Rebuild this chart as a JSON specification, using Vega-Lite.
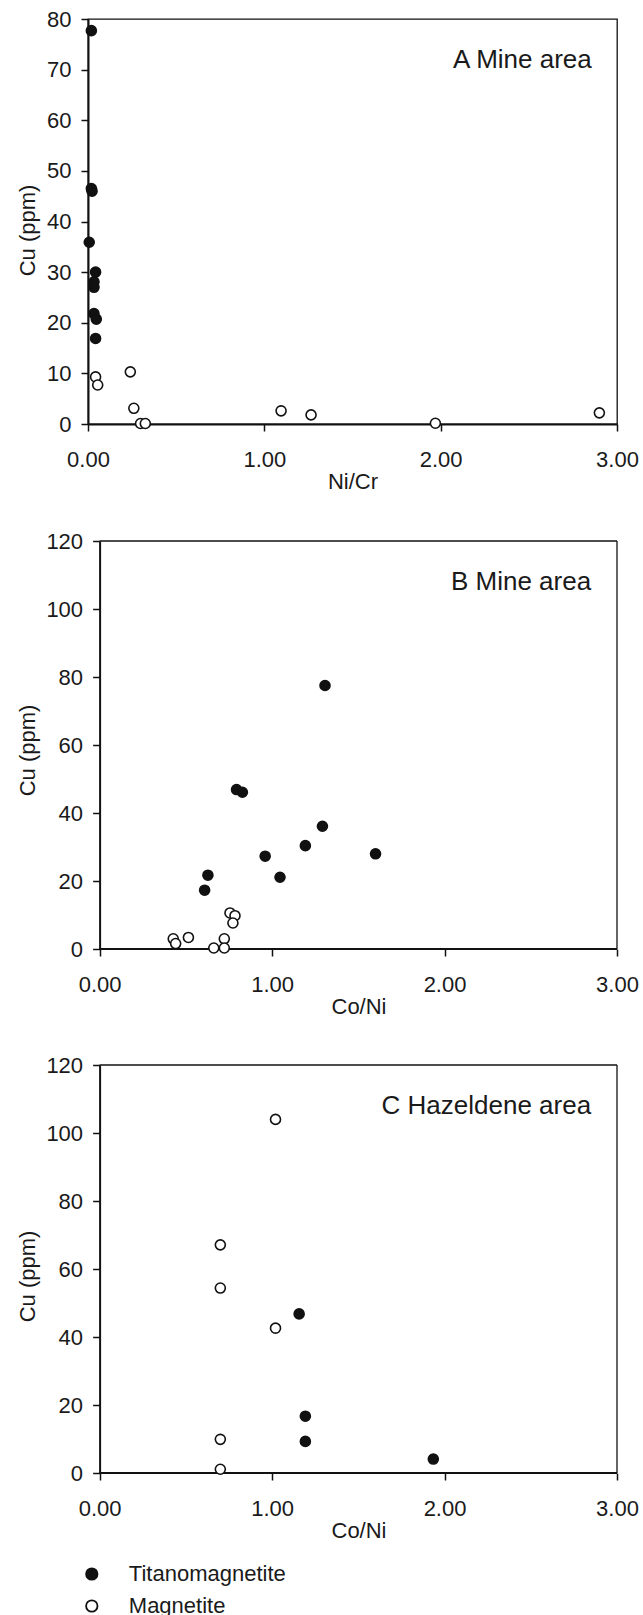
{
  "$schema": "https://vega.github.io/schema/vega-lite/v6.json",
  "background": "white",
  "padding": {"left": 15, "top": 7, "right": 2, "bottom": 0},
  "config": {
    "font": "Liberation Sans",
    "view": {"stroke": "#111", "strokeWidth": 1.3},
    "axis": {"grid": false, "domainColor": "#111", "domainWidth": 2, "tickColor": "#111", "tickWidth": 1.5, "tickSize": 7, "labelFontSize": 22, "labelColor": "#1a1a1a", "labelFont": "Liberation Sans", "titleFont": "Liberation Sans", "titleFontSize": 22, "titleFontWeight": "normal", "titleColor": "#1a1a1a", "labelFlush": false, "labelOverlap": false},
    "text": {"font": "Liberation Sans", "fontWeight": "normal"}
  },
  "datasets": {
    "A": [
      {"ratio": 0.019, "cu": 77.7, "type": "Titanomagnetite"},
      {"ratio": 0.019, "cu": 46.5, "type": "Titanomagnetite"},
      {"ratio": 0.023, "cu": 46.0, "type": "Titanomagnetite"},
      {"ratio": 0.007, "cu": 35.9, "type": "Titanomagnetite"},
      {"ratio": 0.043, "cu": 30.0, "type": "Titanomagnetite"},
      {"ratio": 0.034, "cu": 28.1, "type": "Titanomagnetite"},
      {"ratio": 0.034, "cu": 27.0, "type": "Titanomagnetite"},
      {"ratio": 0.034, "cu": 21.8, "type": "Titanomagnetite"},
      {"ratio": 0.047, "cu": 20.7, "type": "Titanomagnetite"},
      {"ratio": 0.043, "cu": 16.9, "type": "Titanomagnetite"},
      {"ratio": 0.043, "cu": 9.3, "type": "Magnetite"},
      {"ratio": 0.055, "cu": 7.7, "type": "Magnetite"},
      {"ratio": 0.24, "cu": 10.3, "type": "Magnetite"},
      {"ratio": 0.26, "cu": 3.1, "type": "Magnetite"},
      {"ratio": 0.298, "cu": 0.1, "type": "Magnetite"},
      {"ratio": 0.325, "cu": 0.1, "type": "Magnetite"},
      {"ratio": 1.095, "cu": 2.6, "type": "Magnetite"},
      {"ratio": 1.265, "cu": 1.8, "type": "Magnetite"},
      {"ratio": 1.97, "cu": 0.15, "type": "Magnetite"},
      {"ratio": 2.9, "cu": 2.2, "type": "Magnetite"}
    ],
    "B": [
      {"ratio": 1.307, "cu": 77.5, "type": "Titanomagnetite"},
      {"ratio": 0.794, "cu": 46.9, "type": "Titanomagnetite"},
      {"ratio": 0.828, "cu": 46.1, "type": "Titanomagnetite"},
      {"ratio": 1.292, "cu": 36.1, "type": "Titanomagnetite"},
      {"ratio": 1.193, "cu": 30.4, "type": "Titanomagnetite"},
      {"ratio": 0.96, "cu": 27.3, "type": "Titanomagnetite"},
      {"ratio": 1.6, "cu": 28.0, "type": "Titanomagnetite"},
      {"ratio": 0.628, "cu": 21.7, "type": "Titanomagnetite"},
      {"ratio": 1.046, "cu": 21.1, "type": "Titanomagnetite"},
      {"ratio": 0.609, "cu": 17.3, "type": "Titanomagnetite"},
      {"ratio": 0.756, "cu": 10.6, "type": "Magnetite"},
      {"ratio": 0.785, "cu": 9.8, "type": "Magnetite"},
      {"ratio": 0.773, "cu": 7.65, "type": "Magnetite"},
      {"ratio": 0.427, "cu": 3.0, "type": "Magnetite"},
      {"ratio": 0.441, "cu": 1.6, "type": "Magnetite"},
      {"ratio": 0.515, "cu": 3.4, "type": "Magnetite"},
      {"ratio": 0.723, "cu": 3.0, "type": "Magnetite"},
      {"ratio": 0.662, "cu": 0.3, "type": "Magnetite"},
      {"ratio": 0.723, "cu": 0.3, "type": "Magnetite"}
    ],
    "C": [
      {"ratio": 1.02, "cu": 104.0, "type": "Magnetite"},
      {"ratio": 0.7, "cu": 67.1, "type": "Magnetite"},
      {"ratio": 0.7, "cu": 54.4, "type": "Magnetite"},
      {"ratio": 1.02, "cu": 42.6, "type": "Magnetite"},
      {"ratio": 0.7, "cu": 9.9, "type": "Magnetite"},
      {"ratio": 0.7, "cu": 1.1, "type": "Magnetite"},
      {"ratio": 1.157, "cu": 46.8, "type": "Titanomagnetite"},
      {"ratio": 1.193, "cu": 16.7, "type": "Titanomagnetite"},
      {"ratio": 1.193, "cu": 9.3, "type": "Titanomagnetite"},
      {"ratio": 1.935, "cu": 4.1, "type": "Titanomagnetite"}
    ],
    "one": [{"n": 1}]
  },
  "vconcat": [
    {
      "width": 529, "height": 405,
      "layer": [
        {
          "data": {"name": "A"},
          "mark": {"type": "point", "shape": "circle", "filled": true, "stroke": "#111", "strokeWidth": 1.6, "size": 100, "opacity": 1},
          "encoding": {
            "x": {"field": "ratio", "type": "quantitative", "scale": {"domain": [0, 3], "nice": false, "zero": false},
                  "axis": {"values": [0, 1, 2, 3], "format": ".2f", "title": "Ni/Cr", "labelBaseline": "alphabetic", "labelPadding": 35, "titleY": 64, "titleBaseline": "alphabetic"}},
            "y": {"field": "cu", "type": "quantitative", "scale": {"domain": [0, 80], "nice": false},
                  "axis": {"values": [0, 10, 20, 30, 40, 50, 60, 70, 80], "title": "Cu (ppm)", "labelPadding": 10, "titleX": -60.7, "titleY": 211, "titleBaseline": "middle", "titleAlign": "center"}},
            "fill": {"field": "type", "type": "nominal", "scale": {"domain": ["Titanomagnetite", "Magnetite"], "range": ["#111111", "#ffffff"]}, "legend": null}
          }
        },
        {
          "data": {"name": "one"},
          "mark": {"type": "text", "align": "right", "baseline": "alphabetic", "fontSize": 26, "fontWeight": 400, "fill": "#1a1a1a", "text": "A Mine area"},
          "encoding": {"x": {"datum": 2.857, "type": "quantitative"}, "y": {"datum": 70.3, "type": "quantitative"}}
        }
      ]
    },
    {
      "width": 529, "height": 408,
      "view": {"stroke": null},
      "layer": [
        {
          "data": {"name": "one"},
          "mark": {"type": "rule", "color": "#111", "strokeWidth": 2},
          "encoding": {"x": {"datum": 0, "type": "quantitative"}, "x2": {"datum": 3}, "y": {"datum": 0, "type": "quantitative"}}
        },
        {
          "data": {"name": "one"},
          "mark": {"type": "rule", "color": "#111", "strokeWidth": 1.3},
          "encoding": {"x": {"datum": 0, "type": "quantitative"}, "x2": {"datum": 3}, "y": {"datum": 120, "type": "quantitative"}}
        },
        {
          "data": {"name": "one"},
          "mark": {"type": "rule", "color": "#111", "strokeWidth": 1.3},
          "encoding": {"x": {"datum": 3, "type": "quantitative"}, "y": {"datum": 0, "type": "quantitative"}, "y2": {"datum": 120}}
        },
        {
          "data": {"name": "B"},
          "mark": {"type": "point", "shape": "circle", "filled": true, "stroke": "#111", "strokeWidth": 1.6, "size": 100, "opacity": 1},
          "encoding": {
            "x": {"field": "ratio", "type": "quantitative", "scale": {"domain": [-0.06726, 3], "nice": false, "zero": false},
                  "axis": {"values": [0, 1, 2, 3], "format": ".2f", "title": "Co/Ni", "domain": false, "labelBaseline": "alphabetic", "labelPadding": 35, "titleY": 64, "titleX": 270.5, "titleBaseline": "alphabetic"}},
            "y": {"field": "cu", "type": "quantitative", "scale": {"domain": [0, 120], "nice": false},
                  "axis": {"values": [0, 20, 40, 60, 80, 100, 120], "title": "Cu (ppm)", "offset": -11.6, "labelPadding": 10, "titleX": -72.3, "titleY": 209, "titleBaseline": "middle", "titleAlign": "center"}},
            "fill": {"field": "type", "type": "nominal", "scale": {"domain": ["Titanomagnetite", "Magnetite"], "range": ["#111111", "#ffffff"]}, "legend": null}
          }
        },
        {
          "data": {"name": "one"},
          "mark": {"type": "text", "align": "right", "baseline": "alphabetic", "fontSize": 26, "fontWeight": 400, "fill": "#1a1a1a", "text": "B Mine area"},
          "encoding": {"x": {"datum": 2.85, "type": "quantitative"}, "y": {"datum": 105.6, "type": "quantitative"}}
        }
      ]
    },
    {
      "width": 529, "height": 408,
      "view": {"stroke": null},
      "layer": [
        {
          "data": {"name": "one"},
          "mark": {"type": "rule", "color": "#111", "strokeWidth": 2},
          "encoding": {"x": {"datum": 0, "type": "quantitative"}, "x2": {"datum": 3}, "y": {"datum": 0, "type": "quantitative"}}
        },
        {
          "data": {"name": "one"},
          "mark": {"type": "rule", "color": "#111", "strokeWidth": 1.3},
          "encoding": {"x": {"datum": 0, "type": "quantitative"}, "x2": {"datum": 3}, "y": {"datum": 120, "type": "quantitative"}}
        },
        {
          "data": {"name": "one"},
          "mark": {"type": "rule", "color": "#111", "strokeWidth": 1.3},
          "encoding": {"x": {"datum": 3, "type": "quantitative"}, "y": {"datum": 0, "type": "quantitative"}, "y2": {"datum": 120}}
        },
        {
          "data": {"name": "C"},
          "mark": {"type": "point", "shape": "circle", "filled": true, "stroke": "#111", "strokeWidth": 1.6, "size": 100, "opacity": 1},
          "encoding": {
            "x": {"field": "ratio", "type": "quantitative", "scale": {"domain": [-0.06726, 3], "nice": false, "zero": false},
                  "axis": {"values": [0, 1, 2, 3], "format": ".2f", "title": "Co/Ni", "domain": false, "labelBaseline": "alphabetic", "labelPadding": 35, "titleY": 64, "titleX": 270.5, "titleBaseline": "alphabetic"}},
            "y": {"field": "cu", "type": "quantitative", "scale": {"domain": [0, 120], "nice": false},
                  "axis": {"values": [0, 20, 40, 60, 80, 100, 120], "title": "Cu (ppm)", "offset": -11.6, "labelPadding": 10, "titleX": -72.3, "titleY": 211, "titleBaseline": "middle", "titleAlign": "center"}},
            "fill": {"field": "type", "type": "nominal", "scale": {"domain": ["Titanomagnetite", "Magnetite"], "range": ["#111111", "#ffffff"]},
                     "legend": {"orient": "none", "legendX": -7.2, "legendY": 498, "title": null, "padding": 0, "symbolType": "circle", "symbolSize": 130, "symbolStrokeColor": "#111", "symbolStrokeWidth": 1.8, "labelFontSize": 22, "labelColor": "#1a1a1a", "labelOffset": 26, "rowPadding": 10}}
          }
        },
        {
          "data": {"name": "one"},
          "mark": {"type": "text", "align": "right", "baseline": "alphabetic", "fontSize": 26, "fontWeight": 400, "fill": "#1a1a1a", "text": "C Hazeldene area"},
          "encoding": {"x": {"datum": 2.85, "type": "quantitative"}, "y": {"datum": 105.6, "type": "quantitative"}}
        }
      ]
    }
  ],
  "spacing": 37,
  "resolve": {"scale": {"x": "independent", "y": "independent", "fill": "independent"}, "legend": {"fill": "independent"}}
}
